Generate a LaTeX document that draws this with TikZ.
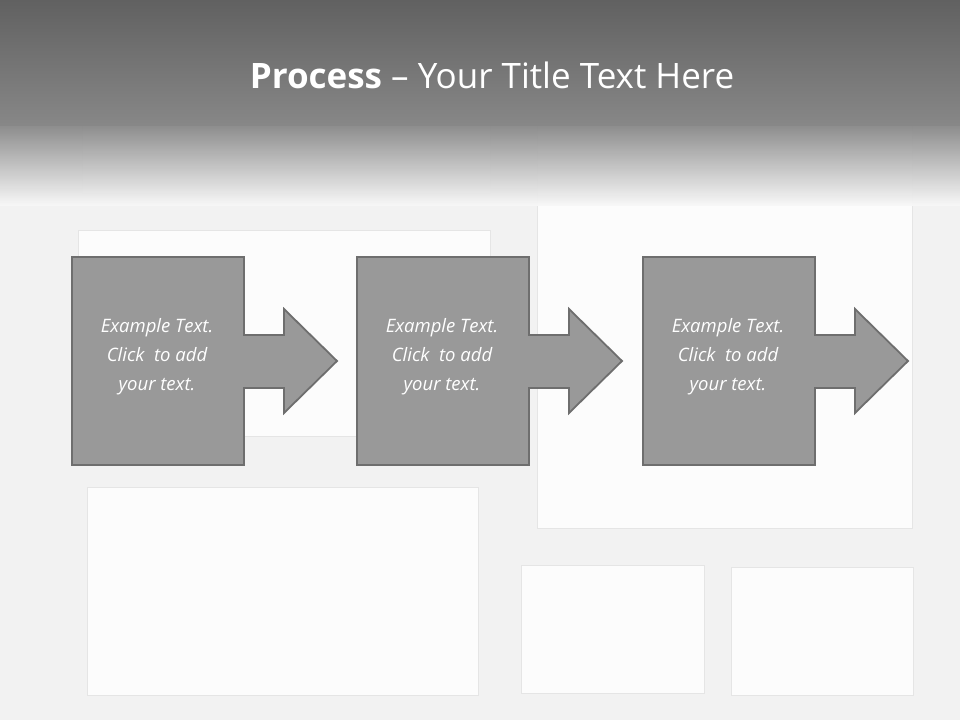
\documentclass[tikz,border=0pt]{standalone}
\usepackage{fontspec}
\setmainfont{Open Sans}
\begin{document}
\begin{tikzpicture}[x=1pt,y=-1pt,
  paper/.style={fill=black!1,draw=black!10,line width=0.6pt},
  step shape/.style={fill=black!40,draw=black!57,line width=1.8pt,line join=miter},
  steptext/.style={text=white,font=\itshape\fontsize{18.5}{29}\selectfont,align=center}]
\useasboundingbox (0,0) rectangle (960,720);
\fill[black!5] (0,0) rectangle (960,720);
% background papers
\draw[paper] (82,120) rectangle (490,193);
\draw[paper] (78,230) rectangle (490,436);
\draw[paper] (537,120) rectangle (912,528);
\draw[paper] (87,487) rectangle (478,695);
\draw[paper] (521,565) rectangle (704,693);
\draw[paper] (731,567) rectangle (913,695);
% title band
\shade[top color=black!62,bottom color=black!47] (0,0) rectangle (960,125);
\shade[top color=black!47,bottom color=black!3,opacity=0.95] (0,125) rectangle (960,205);
\node[text=white,font=\fontsize{35}{42}\selectfont] (title) at (492,75) {\textbf{Process} -- Your Title Text Here};
% steps
\foreach \i/\x in {1/72,2/357,3/643}{
  \draw[step shape] (\x,257) -- (\x+172,257) -- (\x+172,335) -- (\x+212,335) -- (\x+212,309)
    -- (\x+265,361) -- (\x+212,413) -- (\x+212,388) -- (\x+172,388) -- (\x+172,465) -- (\x,465) -- cycle;
  \node[steptext] (t\i) at (\x+85,357) {Example Text.\\Click\ \ to add\\your text.};
}
\end{tikzpicture}
\end{document}
